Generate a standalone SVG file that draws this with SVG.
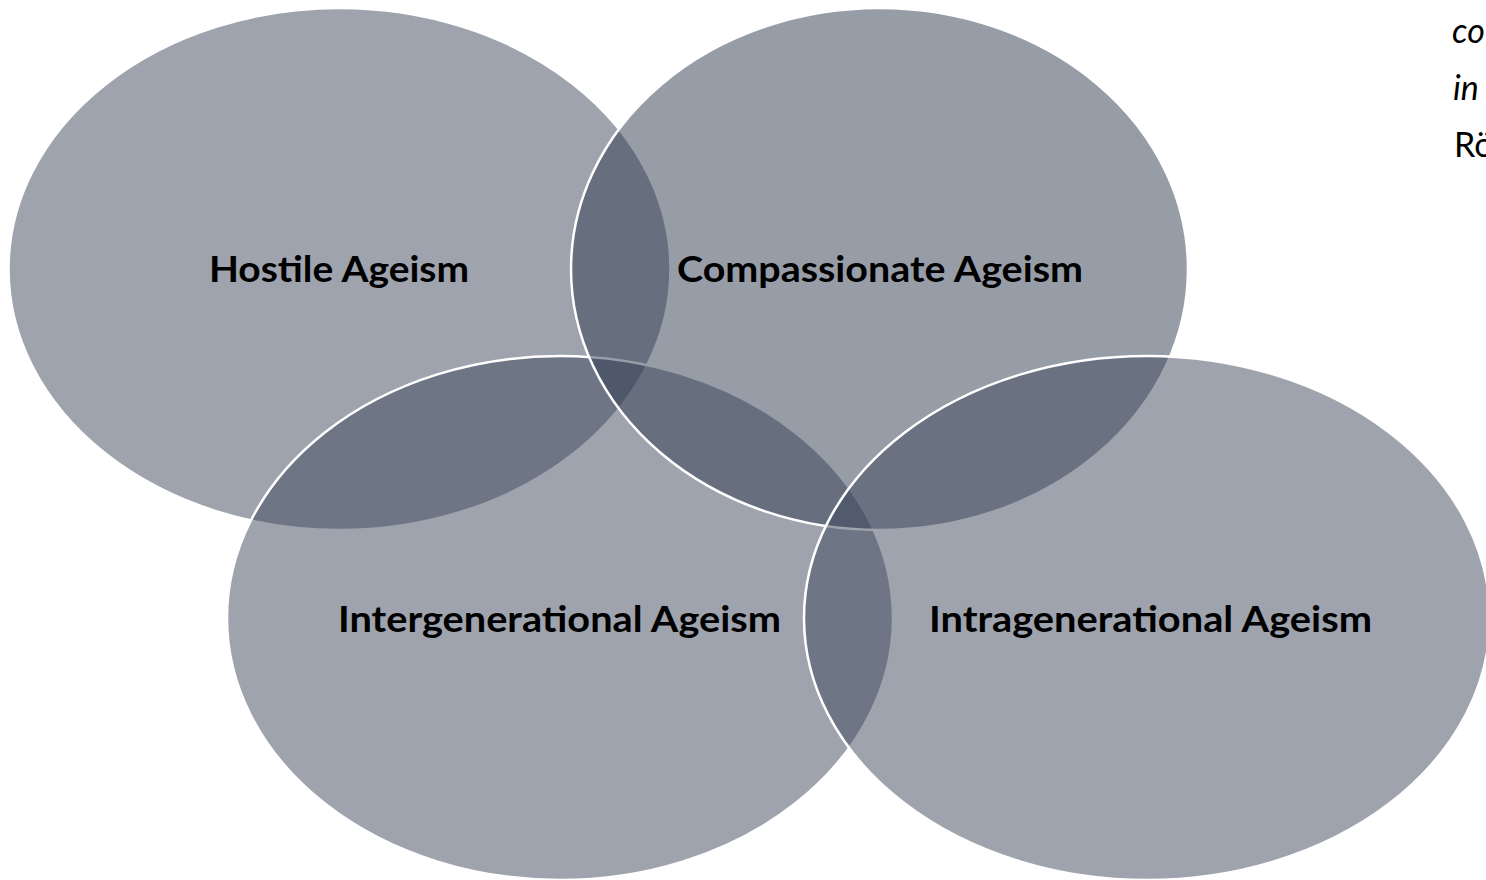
<svg xmlns="http://www.w3.org/2000/svg" width="1486" height="880" viewBox="0 0 1486 880">
  <style>
    .venn { fill-opacity: 0.5; stroke: #ffffff; stroke-width: 2.5; }
    .a { fill: #3d475b; }
    .b { fill: #2f3b4f; }
    .lbl { font-family: Lato, "Open Sans", "Liberation Sans", sans-serif; font-weight: 700; font-size: 37px; fill: #000000; }
    .side { font-family: Lato, "Open Sans", "Liberation Sans", sans-serif; font-size: 34px; fill: #000000; }
  </style>
  <rect x="0" y="0" width="1486" height="880" fill="#ffffff"/>
  <g id="hostile">
    <ellipse class="venn a" cx="339.5" cy="269" rx="331" ry="261"/>
  </g>
  <g id="intergenerational">
    <ellipse class="venn a" cx="560" cy="618" rx="333" ry="262"/>
  </g>
  <g id="compassionate">
    <ellipse class="venn b" cx="879.5" cy="269" rx="308.5" ry="261"/>
  </g>
  <g id="intragenerational">
    <ellipse class="venn a" cx="1147" cy="618" rx="343" ry="262"/>
  </g>
  <g id="connectors"></g>
  <g id="labels">
    <text class="lbl" x="209" y="282" textLength="260" lengthAdjust="spacingAndGlyphs">Hostile Ageism</text>
    <text class="lbl" x="677" y="282" textLength="406" lengthAdjust="spacingAndGlyphs">Compassionate Ageism</text>
    <text class="lbl" x="338" y="632" textLength="443" lengthAdjust="spacingAndGlyphs">Intergenerational Ageism</text>
    <text class="lbl" x="929" y="632" textLength="443" lengthAdjust="spacingAndGlyphs">Intragenerational Ageism</text>
  </g>
  <g id="side-text">
    <text class="side" x="1452" y="43" font-style="italic">co</text>
    <text class="side" x="1453" y="100" font-style="italic">in</text>
    <text class="side" x="1454" y="157">Rö</text>
  </g>
</svg>
